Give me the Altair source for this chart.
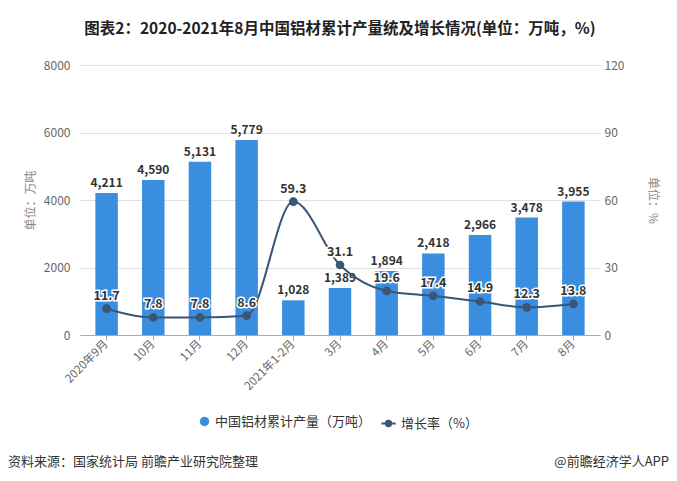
import altair as alt
import pandas as pd

categories = ["2020年9月", "10月", "11月", "12月", "2021年1-2月", "3月", "4月", "5月", "6月", "7月", "8月"]
output = [4211, 4590, 5131, 5779, 1028, 1389, 1894, 2418, 2966, 3478, 3955]
rate = [11.7, 7.8, 7.8, 8.6, 59.3, 31.1, 19.6, 17.4, 14.9, 12.3, 13.8]
series_names = ["中国铝材累计产量（万吨）", "增长率（%）"]
series_colors = ["#3a8ee0", "#3a5674"]
title_text = "图表2：2020-2021年8月中国铝材累计产量统及增长情况(单位：万吨，%)"
source_text = "资料来源：国家统计局 前瞻产业研究院整理"
brand_text = "@前瞻经济学人APP"

FONT = "Noto Sans CJK SC"

df = pd.DataFrame({
    "month": categories,
    "output": output,
    "rate": rate,
    "s_bar": series_names[0],
    "s_line": series_names[1],
})

bar_scale = alt.Scale(domain=[series_names[0]], range=[series_colors[0]])
line_scale = alt.Scale(domain=[series_names[1]], range=[series_colors[1]])
bar_legend = alt.Legend(
    orient="none", legendX=118, legendY=350, direction="horizontal", title=None,
    symbolType="circle", symbolSize=90, labelFontSize=13, labelColor="#333", labelFont=FONT,
)
line_legend = alt.Legend(
    orient="none", legendX=300, legendY=350, direction="horizontal", title=None,
    symbolType="M-1,0H1M0.38,0A0.38,0.38,0,1,1,-0.38,0A0.38,0.38,0,1,1,0.38,0Z",
    symbolSize=200, symbolStrokeWidth=2, symbolFillColor=series_colors[1],
    labelFontSize=13, labelColor="#333", labelFont=FONT,
)

x = alt.X("month:N", sort=categories, title=None,
          scale=alt.Scale(paddingInner=0.52, paddingOuter=0.33),
          axis=alt.Axis(labelAngle=-45, labelAlign="right", labelBaseline="middle",
                        labelColor="#666", labelFontSize=11.5, labelFont=FONT,
                        domainColor="#aaa", tickColor="#aaa", tickSize=5, labelPadding=2))

base = alt.Chart(df)

ly = alt.Y("output:Q", scale=alt.Scale(domain=[0, 8000]), title="单位：万吨",
           axis=alt.Axis(values=[0, 2000, 4000, 6000, 8000], format="d", domain=False, ticks=False,
                         gridColor="#e0e0e0", labelColor="#666", labelFontSize=12, labelFont=FONT,
                         labelPadding=10, titleColor="#888", titleFontWeight="normal",
                         titleFontSize=12, titleFont=FONT, titlePadding=6))
bars = base.mark_bar(width=22.5).encode(
    x=x, y=ly,
    fill=alt.Fill("s_bar:N", scale=bar_scale, legend=bar_legend),
)
bar_text = base.mark_text(dy=-10, fontWeight="bold", fontSize=12, color="#333", font=FONT).encode(
    x=x, y=ly,
    text=alt.Text("output:Q", format=",d"),
)
left = alt.layer(bars, bar_text)

ry = alt.Y("rate:Q", scale=alt.Scale(domain=[0, 120]), title="单位：%",
           axis=alt.Axis(orient="right", values=[0, 30, 60, 90, 120], domain=False, ticks=False, grid=False,
                         labelColor="#666", labelFontSize=12, labelFont=FONT, labelPadding=4,
                         titleColor="#888", titleFontWeight="normal", titleFontSize=12, titleFont=FONT,
                         titleAngle=90, titlePadding=22))
line = base.mark_line(interpolate="monotone", strokeWidth=2).encode(
    x=x, y=ry, stroke=alt.Stroke("s_line:N", scale=line_scale, legend=line_legend))
pts = base.mark_circle(size=75, opacity=1, color=series_colors[1]).encode(x=x, y=ry)
rate_halo = base.mark_text(dy=-13, fontWeight="bold", fontSize=12.5, color="white", stroke="white",
                           strokeWidth=3, font=FONT).encode(
    x=x, y=ry, text=alt.Text("rate:Q", format=".1f"))
rate_text = base.mark_text(dy=-13, fontWeight="bold", fontSize=12.5, color="#333", font=FONT).encode(
    x=x, y=ry, text=alt.Text("rate:Q", format=".1f"))
right = alt.layer(line, pts, rate_halo, rate_text)

foot_df = pd.DataFrame({"t": [source_text]})
foot_df2 = pd.DataFrame({"t": [brand_text]})
foot1 = alt.Chart(foot_df).mark_text(align="left", fontSize=13, color="#333", font=FONT).encode(
    x=alt.value(-72), y=alt.value(397), text="t:N")
foot2 = alt.Chart(foot_df2).mark_text(align="right", fontSize=13, color="#333", font=FONT).encode(
    x=alt.value(589), y=alt.value(397), text="t:N")

chart = alt.layer(left, right, foot1, foot2).resolve_scale(y="independent").properties(
    width=520, height=270,
    autosize=alt.AutoSizeParams(type="none"),
    padding={"left": 72, "top": 57, "right": 69, "bottom": 138},
    title=alt.TitleParams(title_text, fontSize=15.5, fontWeight="bold", color="#222", font=FONT,
                          anchor="middle", offset=22),
).configure_view(stroke=None)

chart.save("out.html", embed_options={"renderer": "svg", "actions": False})
